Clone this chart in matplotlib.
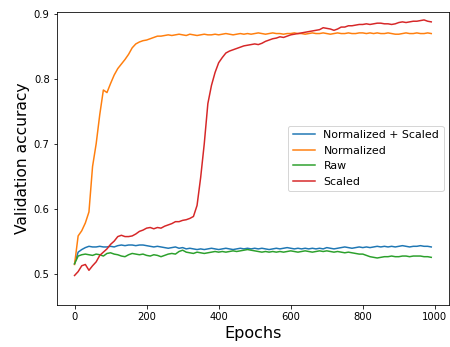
import numpy as np
import matplotlib
matplotlib.use('Agg')
import matplotlib.pyplot as plt

# Точность на валидации, снята каждые 10 эпох
epochs = list(range(0, 1000, 10))

norm_scaled = [0.515, 0.533, 0.537, 0.540, 0.542, 0.541, 0.541, 0.542, 0.541, 0.541,
               0.542, 0.541, 0.543, 0.544, 0.543, 0.544, 0.544, 0.543, 0.544, 0.544,
               0.543, 0.542, 0.541, 0.542, 0.541, 0.540, 0.539, 0.540, 0.541, 0.539,
               0.540, 0.538, 0.539, 0.538, 0.537, 0.538, 0.537, 0.538, 0.539, 0.538,
               0.537, 0.538, 0.539, 0.538, 0.537, 0.538, 0.539, 0.538, 0.539, 0.538,
               0.539, 0.538, 0.539, 0.538, 0.537, 0.538, 0.539, 0.538, 0.539, 0.540,
               0.539, 0.538, 0.539, 0.538, 0.539, 0.538, 0.539, 0.538, 0.539, 0.538,
               0.540, 0.539, 0.538, 0.539, 0.540, 0.541, 0.540, 0.539, 0.540, 0.541,
               0.540, 0.541, 0.540, 0.541, 0.542, 0.541, 0.542, 0.541, 0.542, 0.541,
               0.542, 0.543, 0.542, 0.541, 0.542, 0.542, 0.543, 0.542, 0.542, 0.541]

normalized = [0.514, 0.558, 0.566, 0.578, 0.595, 0.665, 0.700, 0.745, 0.783, 0.779,
              0.793, 0.806, 0.816, 0.823, 0.830, 0.838, 0.848, 0.854, 0.857, 0.859,
              0.860, 0.862, 0.864, 0.866, 0.866, 0.867, 0.868, 0.867, 0.868, 0.869,
              0.868, 0.867, 0.869, 0.868, 0.867, 0.868, 0.869, 0.868, 0.868, 0.869,
              0.868, 0.869, 0.870, 0.869, 0.868, 0.869, 0.870, 0.869, 0.870, 0.869,
              0.870, 0.871, 0.870, 0.869, 0.870, 0.871, 0.870, 0.870, 0.869, 0.870,
              0.870, 0.871, 0.870, 0.870, 0.869, 0.870, 0.871, 0.870, 0.870, 0.871,
              0.870, 0.869, 0.870, 0.871, 0.870, 0.870, 0.871, 0.870, 0.870, 0.871,
              0.871, 0.870, 0.871, 0.870, 0.871, 0.870, 0.870, 0.871, 0.870, 0.869,
              0.869, 0.870, 0.871, 0.870, 0.870, 0.871, 0.870, 0.870, 0.871, 0.870]

raw = [0.515, 0.527, 0.529, 0.530, 0.529, 0.528, 0.530, 0.529, 0.527, 0.531,
       0.532, 0.530, 0.529, 0.527, 0.526, 0.529, 0.531, 0.530, 0.529, 0.530,
       0.528, 0.527, 0.529, 0.528, 0.526, 0.528, 0.530, 0.531, 0.530, 0.534,
       0.536, 0.533, 0.532, 0.531, 0.533, 0.532, 0.531, 0.532, 0.533, 0.534,
       0.533, 0.534, 0.533, 0.534, 0.535, 0.534, 0.535, 0.536, 0.537, 0.536,
       0.535, 0.534, 0.533, 0.534, 0.533, 0.534, 0.533, 0.534, 0.533, 0.534,
       0.535, 0.534, 0.533, 0.534, 0.535, 0.534, 0.533, 0.534, 0.535, 0.534,
       0.535, 0.534, 0.533, 0.534, 0.533, 0.532, 0.533, 0.532, 0.531, 0.530,
       0.530, 0.528, 0.526, 0.525, 0.524, 0.525, 0.526, 0.526, 0.527, 0.526,
       0.526, 0.527, 0.527, 0.526, 0.527, 0.527, 0.527, 0.526, 0.526, 0.525]

scaled = [0.497, 0.503, 0.512, 0.514, 0.505, 0.512, 0.518, 0.528, 0.533, 0.538,
          0.545, 0.550, 0.557, 0.559, 0.557, 0.557, 0.558, 0.561, 0.565, 0.567,
          0.570, 0.571, 0.569, 0.571, 0.570, 0.573, 0.575, 0.577, 0.580, 0.580,
          0.582, 0.583, 0.585, 0.588, 0.605, 0.648, 0.700, 0.762, 0.790, 0.810,
          0.825, 0.833, 0.840, 0.843, 0.845, 0.847, 0.849, 0.851, 0.852, 0.853,
          0.854, 0.853, 0.855, 0.858, 0.860, 0.862, 0.863, 0.865, 0.864, 0.866,
          0.868, 0.869, 0.870, 0.871, 0.872, 0.873, 0.874, 0.875, 0.876, 0.879,
          0.878, 0.877, 0.875, 0.877, 0.880, 0.880, 0.882, 0.882, 0.883, 0.884,
          0.884, 0.885, 0.884, 0.885, 0.886, 0.886, 0.885, 0.885, 0.884, 0.885,
          0.887, 0.888, 0.887, 0.888, 0.889, 0.889, 0.890, 0.891, 0.889, 0.888]

fig = plt.figure(figsize=(450 / 72, 347 / 72), dpi=72)
ax = fig.add_axes([0.126, 0.121, 0.872, 0.844])

ax.plot(epochs, norm_scaled, label='Normalized + Scaled')
ax.plot(epochs, normalized, label='Normalized')
ax.plot(epochs, raw, label='Raw')
ax.plot(epochs, scaled, label='Scaled')

ax.set_ylim(0.4515, 0.903)
ax.set_xticks([0, 200, 400, 600, 800, 1000])
ax.set_xlabel('Epochs', fontsize=16)
ax.set_ylabel('Validation accuracy', fontsize=15.5)
ax.legend(loc='center right', fontsize=11)

plt.savefig('out.png', dpi=72)
